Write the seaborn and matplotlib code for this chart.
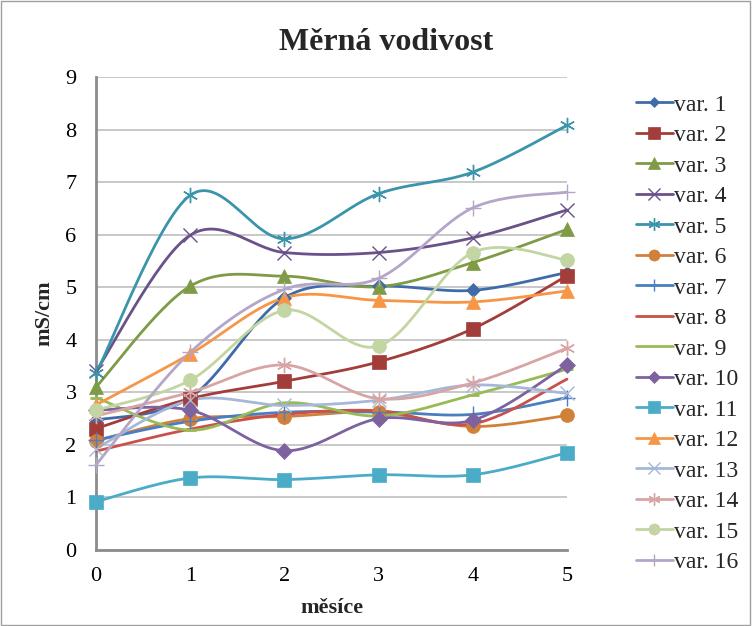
import numpy as np
import pandas as pd
import matplotlib
matplotlib.use("Agg")
import matplotlib.pyplot as plt
from matplotlib.lines import Line2D
from matplotlib.patches import Rectangle
import seaborn as sns

sns.set_theme(style="white")
plt.rcParams['font.family'] = ['Liberation Serif', 'DejaVu Serif']

months = [0, 1, 2, 3, 4, 5]
series_names = [f"var. {i}" for i in range(1, 17)]

var1 = [2.47, 2.90, 4.80, 5.02, 4.94, 5.28]
var2 = [2.31, 2.88, 3.21, 3.58, 4.21, 5.22]
var3 = [3.10, 5.02, 5.21, 5.01, 5.47, 6.10]
var4 = [3.40, 5.99, 5.66, 5.66, 5.94, 6.47]
var5 = [3.36, 6.75, 5.92, 6.78, 7.19, 8.08]
var6 = [2.08, 2.50, 2.54, 2.62, 2.35, 2.56]
var7 = [2.09, 2.45, 2.62, 2.63, 2.58, 2.90]
var8 = [1.88, 2.30, 2.58, 2.65, 2.40, 3.25]
var9 = [2.90, 2.28, 2.80, 2.55, 2.95, 3.44]
var10 = [2.66, 2.66, 1.89, 2.50, 2.47, 3.52]
var11 = [0.92, 1.37, 1.34, 1.43, 1.43, 1.85]
var12 = [2.76, 3.73, 4.80, 4.75, 4.72, 4.93]
var13 = [1.93, 2.85, 2.75, 2.85, 3.14, 2.98]
var14 = [2.55, 3.00, 3.52, 2.88, 3.18, 3.84]
var15 = [2.66, 3.23, 4.56, 3.88, 5.66, 5.52]
var16 = [1.62, 3.76, 4.96, 5.17, 6.51, 6.81]

values = [var1, var2, var3, var4, var5, var6, var7, var8, var9, var10,
          var11, var12, var13, var14, var15, var16]

colors = ["#3F6CA8", "#A23D3A", "#7F9B45", "#6A5189", "#3A95AB", "#D1803A",
          "#4A7EC0", "#C9504B", "#98BB57", "#7E62A0", "#4AACC6", "#F79646",
          "#A6B8DA", "#D8A5A4", "#C2D5A3", "#B3A6C8"]
asterisk = (6, 2, 0)
markers = ["D", "s", "^", "x", asterisk, "o", "+", None, "_", "D", "s", "^",
           "x", asterisk, "o", "+"]
msizes = [7, 10, 10, 10, 11, 10, 11, 0, 8, 8, 10, 10, 10, 11, 10, 11]
thin = ("x", "+", asterisk)


def smooth(xs, ys, n=30):
    """Excel-style smoothed line (cubic Bezier, tension 1/6)."""
    P = np.column_stack([xs, ys]).astype(float)
    ext = np.vstack([P[0], P, P[-1]])
    out = []
    for i in range(len(P) - 1):
        p0, p1, p2, p3 = ext[i], ext[i + 1], ext[i + 2], ext[i + 3]
        c1 = p1 + (p2 - p0) / 6.0
        c2 = p2 - (p3 - p1) / 6.0
        t = np.linspace(0, 1, n, endpoint=(i == len(P) - 2))[:, None]
        b = ((1 - t) ** 3) * p1 + 3 * ((1 - t) ** 2) * t * c1 + 3 * (1 - t) * t ** 2 * c2 + t ** 3 * p2
        out.append(b)
    out = np.vstack(out)
    return out[:, 0], out[:, 1]


fig = plt.figure(figsize=(7.52, 6.26), dpi=100)
ax = fig.add_axes([96 / 752, 1 - 550 / 626, (567 - 96) / 752, (550 - 77) / 626])

handles = []
for name, vals, col, mk, ms in zip(series_names, values, colors, markers, msizes):
    sx, sy = smooth(months, vals)
    df = pd.DataFrame({"x": sx, "y": sy})
    sns.lineplot(data=df, x="x", y="y", ax=ax, color=col, lw=2.0, sort=False,
                 estimator=None, clip_on=False, zorder=3)
    if mk is not None:
        mew = 1.0 if mk in thin else (2.0 if mk == "_" else 0.5)
        ax.plot(months, vals, ls="none", marker=mk, ms=ms, color=col,
                mec=col, mew=mew, clip_on=False, zorder=4)
    handles.append(Line2D([0], [0], color=col, lw=2.0, marker=mk if mk else None,
                          ms=ms * 0.8, mew=1.0 if mk in thin else 0.5))

ax.set_xlim(0, 5)
ax.set_ylim(0, 9)
ax.set_xticks(months)
ax.set_yticks(range(0, 10))
ax.tick_params(axis="both", labelsize=16, length=0, colors="black")
ax.tick_params(axis="x", pad=12)
ax.tick_params(axis="y", pad=14)
ax.yaxis.grid(True, color="#BFBFBF", lw=1.2)
ax.xaxis.grid(False)
for s in ["top", "right"]:
    ax.spines[s].set_visible(False)
ax.spines["left"].set_color("#8C8C8C")
ax.spines["left"].set_linewidth(2)
ax.spines["bottom"].set_color("#8C8C8C")
ax.spines["bottom"].set_linewidth(2)
ax.set_xlabel("měsíce", fontsize=16, fontweight="bold", labelpad=9)
ax.set_ylabel("mS/cm", fontsize=16, fontweight="bold", labelpad=8)

fig.text(386 / 752, 1 - 42 / 626, "Měrná vodivost", ha="center", va="center",
         fontsize=23, fontweight="bold")

fig.legend(handles=handles, labels=series_names, loc="upper left",
           bbox_to_anchor=(636 / 752, 1 - 94 / 626), frameon=False,
           fontsize=17, handlelength=1.55, handletextpad=0.08,
           labelspacing=0.38, borderaxespad=0, borderpad=0)

fig.patches.append(Rectangle((0.001, 0.001), 0.997, 0.997, transform=fig.transFigure,
                             fill=False, edgecolor="#A0A0A0", lw=1.0))

fig.savefig("out.png", dpi=100, facecolor="white")
